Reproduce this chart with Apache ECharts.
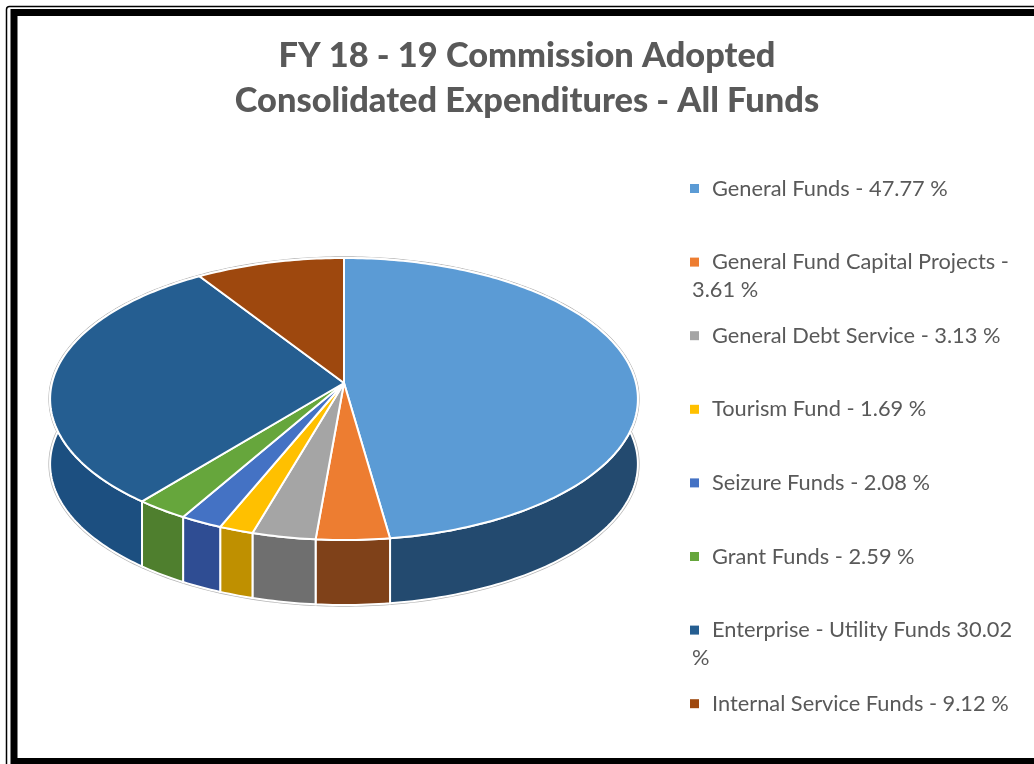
<!DOCTYPE html>
<html>
<head>
<meta charset="utf-8">
<title>FY 18 - 19 Commission Adopted</title>
<script src="https://cdn.jsdelivr.net/npm/echarts@6/dist/echarts.min.js"></script>
<style>
  html, body { margin: 0; padding: 0; background: #fff; }
  #chart { width: 1034px; height: 764px; }
</style>
</head>
<body>
<div id="chart"></div>
<script>
// 图表数据
const titleText = 'FY 18 - 19 Commission Adopted\nConsolidated Expenditures - All Funds'
const legendFirstLines = [
  'General Funds - 47.77 %',
  'General Fund Capital Projects -',
  'General Debt Service - 3.13 %',
  'Tourism Fund - 1.69 %',
  'Seizure Funds - 2.08 %',
  'Grant Funds - 2.59 %',
  'Enterprise - Utility Funds 30.02',
  'Internal Service Funds - 9.12 %'
]
const legendSecondLines = ['', '3.61 %', '', '', '', '', '%', '']
const values = [47.77, 3.61, 3.13, 1.69, 2.08, 2.59, 30.02, 9.12]
const topColors = ['#5b9bd5', '#ed7d31', '#a5a5a5', '#ffc000', '#4472c4', '#66a63c', '#255e91', '#9e480e']
const sideColors = ['#234a6f', '#7f4119', '#6f6f6f', '#bf9000', '#2f4d93', '#4f7f2e', '#1c4f80', '#6b3009']

// 透视饼图的几何参数
const apexX = 344
const apexY = 383
const radiusX = 292
const radiusY = 139.2
const perspective = 0.1135
const depth = 65

const total = values.reduce((a, b) => a + b, 0)

// 圆盘上的角度（顺时针，从正上方算起）投影到屏幕
const project = (angle) => {
  const u = Math.sin(angle)
  const v = Math.cos(angle)
  const w = 1 + perspective * v
  return [apexX + radiusX * u / w, apexY - radiusY * v / w]
}

const sliceAngles = (index) => {
  const before = values.slice(0, index).reduce((a, b) => a + b, 0)
  return [before / total * Math.PI * 2, (before + values[index]) / total * Math.PI * 2]
}

const arcPoints = (start, end) => {
  const steps = Math.max(2, Math.ceil((end - start) / (Math.PI / 180)))
  const points = []
  for (let i = 0; i <= steps; i++) {
    points.push(project(start + (end - start) * i / steps))
  }
  return points
}

// 外圈的灰色细边
const renderRim = () => {
  const upper = arcPoints(0, Math.PI * 2)
  const lower = upper.map(p => [p[0], p[1] + depth])
  const rimStyle = { fill: '#fff', stroke: '#b4b4b4', lineWidth: 3.4 }
  return {
    type: 'group',
    children: [
      { type: 'polygon', shape: { points: lower }, style: rimStyle },
      { type: 'polygon', shape: { points: upper }, style: rimStyle }
    ]
  }
}

// 侧面
const renderSide = (params, api) => {
  const index = params.dataIndex
  const [start, end] = sliceAngles(index)
  const upper = arcPoints(start, end)
  const lower = upper.map(p => [p[0], p[1] + depth]).reverse()
  return {
    type: 'polygon',
    shape: { points: upper.concat(lower) },
    style: { fill: sideColors[index], stroke: '#fff', lineWidth: 2 }
  }
}

// 顶面
const renderTop = (index) => () => {
  const [start, end] = sliceAngles(index)
  return {
    type: 'polygon',
    shape: { points: [[apexX, apexY]].concat(arcPoints(start, end)) },
    style: { fill: topColors[index], stroke: '#fff', lineWidth: 2, lineJoin: 'round' }
  }
}

const rimSeries = {
  name: 'rim',
  type: 'custom',
  coordinateSystem: 'none',
  silent: true,
  z: 0,
  renderItem: renderRim,
  data: [total]
}

const sideSeries = {
  name: 'sides',
  type: 'custom',
  coordinateSystem: 'none',
  silent: true,
  z: 1,
  renderItem: renderSide,
  data: values
}

const topSeries = legendFirstLines.map((name, i) => ({
  name,
  type: 'custom',
  coordinateSystem: 'none',
  silent: true,
  z: 2,
  itemStyle: { color: topColors[i] },
  renderItem: renderTop(i),
  data: [values[i]]
}))

const legendTextStyle = { color: '#595959', fontFamily: 'Lato', fontSize: 21.8 }

const option = {
  animation: false,
  backgroundColor: '#fff',
  title: {
    text: titleText,
    left: 522,
    top: 28,
    textAlign: 'center',
    textStyle: { color: '#595959', fontFamily: 'Lato', fontSize: 34.4, fontWeight: 900, lineHeight: 45 }
  },
  // 每个图例单独定位，行距固定
  legend: legendFirstLines.map((name, i) => ({
    data: [name],
    left: 690,
    top: 177.5 + i * 73.6,
    padding: 0,
    icon: 'rect',
    itemWidth: 9,
    itemHeight: 9,
    itemGap: 0,
    selectedMode: false,
    textStyle: { ...legendTextStyle, padding: [0, 0, 0, 8] }
  })),
  graphic: [
    // 外框
    { type: 'rect', shape: { x: 6.5, y: 6.5, width: 1100, height: 800, r: 3 }, style: { fill: 'none', stroke: '#000', lineWidth: 1.5 } },
    { type: 'rect', shape: { x: 14, y: 12.5, width: 1100, height: 749 }, style: { fill: 'none', stroke: '#000', lineWidth: 7 } },
    // 折行的图例文字
    ...legendSecondLines.map((text, i) => ({
      type: 'text',
      left: 692,
      top: 177.5 + i * 73.6 + 28,
      style: { text, fill: '#595959', font: '21.8px Lato' }
    }))
  ],
  series: [rimSeries, sideSeries, ...topSeries]
}

const chart = echarts.init(document.getElementById('chart'))
chart.setOption(option)
</script>
</body>
</html>
